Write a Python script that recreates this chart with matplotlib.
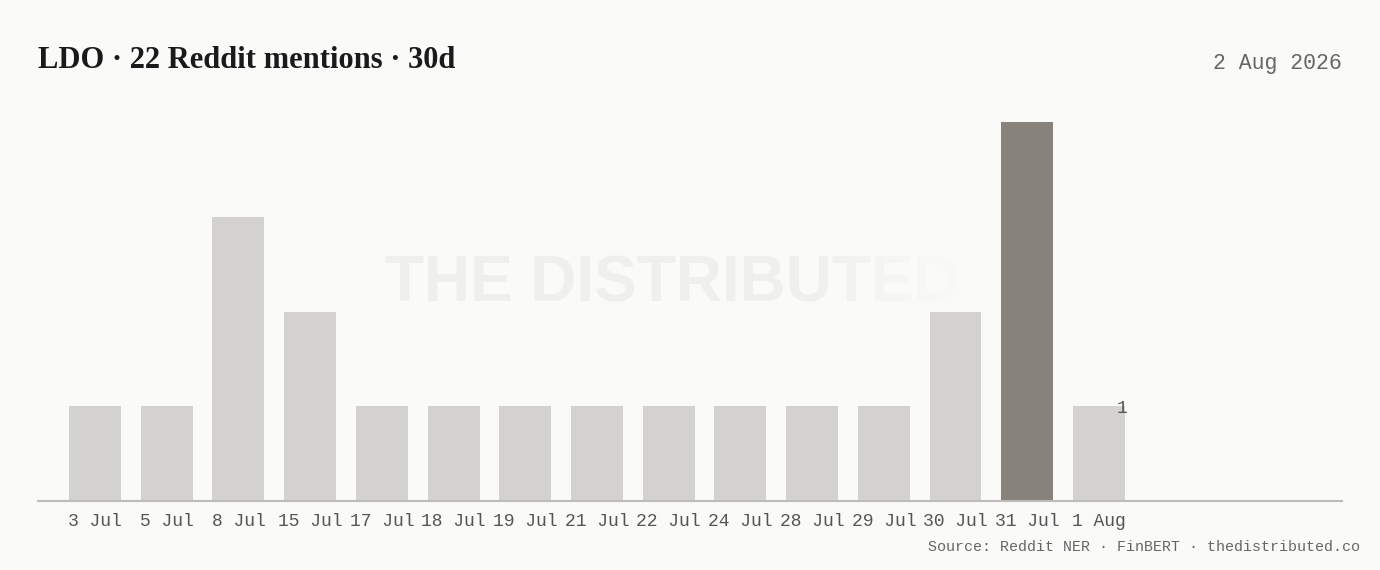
import matplotlib
matplotlib.use('Agg')
import matplotlib.pyplot as plt
import matplotlib.colors as mcolors
import numpy as np

days = ['3 Jul', '5 Jul', '8 Jul', '15 Jul', '17 Jul', '18 Jul', '19 Jul', '21 Jul',
        '22 Jul', '24 Jul', '28 Jul', '29 Jul', '30 Jul', '31 Jul', '1 Aug']
mentions = [1, 1, 3, 2, 1, 1, 1, 1, 1, 1, 1, 1, 2, 4, 1]
peak_day = '31 Jul'

title = 'LDO · 22 Reddit mentions · 30d'
date_label = '2 Aug 2026'
source = 'Source: Reddit NER · FinBERT · thedistributed.co'

bg = '#fafaf8'
bar_light = '#d3d2ce'
bar_dark = '#87837b'
mono = ['Liberation Mono', 'DejaVu Sans Mono']

fig = plt.figure(figsize=(13.8, 5.7), dpi=100, facecolor=bg)
ax = fig.add_axes([38 / 1380, 69 / 570, 1304 / 1380, 379 / 570])
ax.set_facecolor(bg)

x = list(range(len(days)))
colors = [bar_dark if d == peak_day else bar_light for d in days]
ax.bar(x, mentions, width=0.725, color=colors, zorder=2)

# last value label at top right of final bar
ax.text(x[-1] + 0.33, mentions[-1] - 0.02, str(mentions[-1]), ha='center', va='center',
        fontsize=13, family=mono, color='#555555', zorder=3)

ax.set_xlim(-0.795, 17.39)
ax.set_ylim(0, 4)
ax.set_xticks(x)
ax.set_xticklabels(days, family=mono, fontsize=13, color='#555555')
ax.tick_params(axis='x', length=0, pad=9)
ax.set_yticks([])
for s in ['top', 'right', 'left']:
    ax.spines[s].set_visible(False)
ax.spines['bottom'].set_color('#bdbcb8')
ax.spines['bottom'].set_linewidth(1.5)

# watermark, fading out toward the end
fig.text(385 / 1380, 1 - 285 / 570, 'THE DISTRIBUTED', ha='left', va='center',
         fontsize=46, fontweight='bold', family='Liberation Sans',
         color='#efefed', zorder=0)
fade = fig.add_axes([790 / 1380, 1 - 311 / 570, 200 / 1380, 62 / 570], zorder=1)
rgb = mcolors.to_rgb(bg)
grad = np.zeros((1, 200, 4))
grad[..., :3] = rgb
grad[..., 3] = np.clip(np.linspace(-0.1, 1.1, 200), 0, 1) ** 0.8
fade.imshow(grad, aspect='auto', extent=[0, 1, 0, 1])
fade.axis('off')

fig.text(38 / 1380, 1 - 60 / 570, title, ha='left', va='center',
         fontsize=22, fontweight='bold', family='Liberation Serif', color='#1a1a1a')
fig.text(1342 / 1380, 1 - 63 / 570, date_label, ha='right', va='center',
         fontsize=15.5, family=mono, color='#666666')
fig.text(1360 / 1380, 1 - 547 / 570, source, ha='right', va='center',
         fontsize=10.8, family=mono, color='#666666')

fig.savefig('out.png', dpi=100, facecolor=bg)
